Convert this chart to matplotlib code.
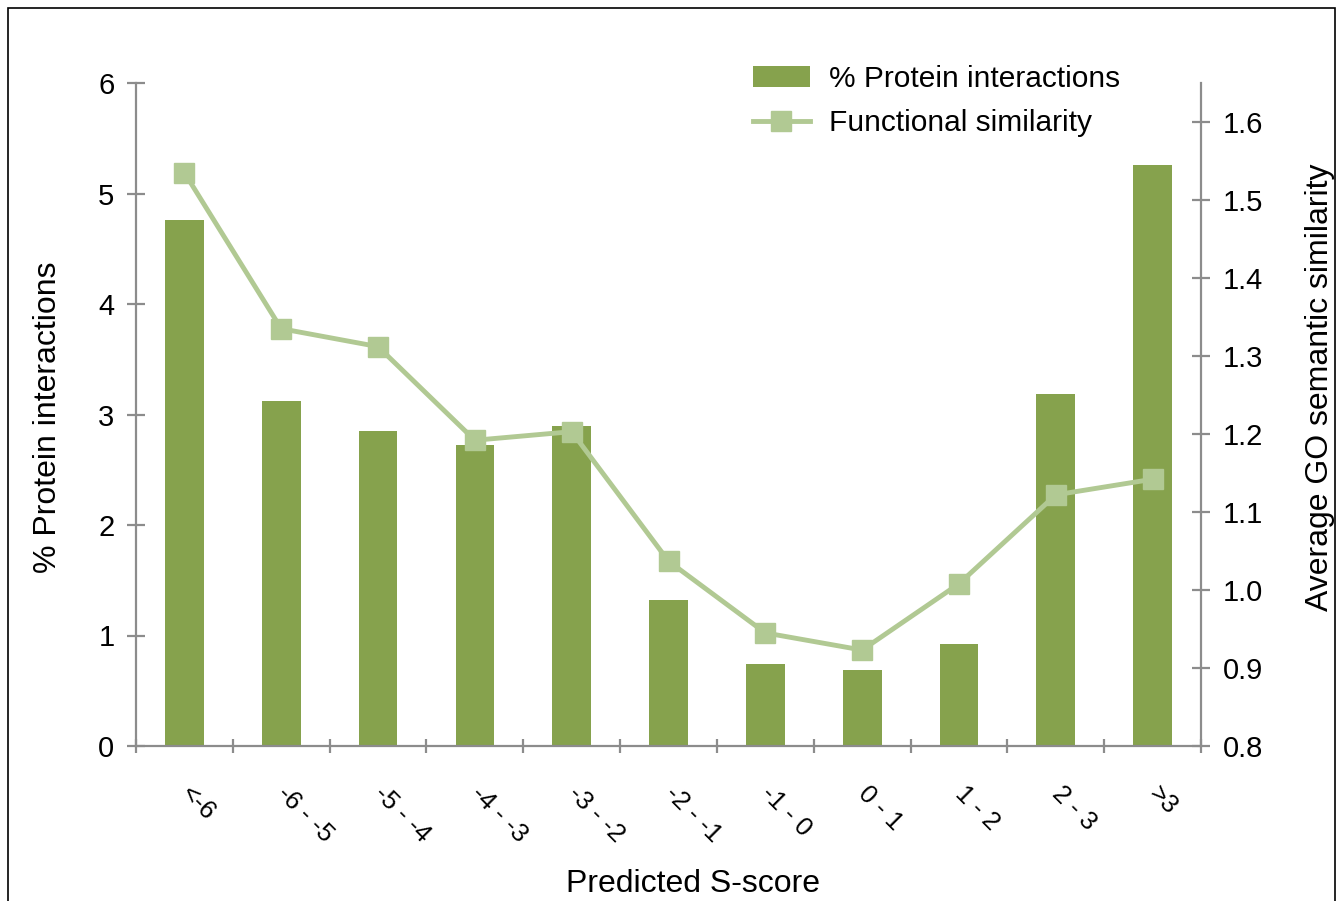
import matplotlib.pyplot as plt
import matplotlib.patches as mpatches
from matplotlib.lines import Line2D
import numpy as np

plt.rcParams["font.family"] = ["Liberation Sans", "DejaVu Sans"]

categories = ["<-6", "-6 - -5", "-5 - -4", "-4 - -3", "-3 - -2", "-2 - -1",
              "-1 - 0", "0 - 1", "1 - 2", "2 - 3", ">3"]
pct_interactions = [4.76, 3.12, 2.85, 2.72, 2.90, 1.32, 0.74, 0.69, 0.92, 3.19, 5.26]
func_similarity = [1.535, 1.335, 1.312, 1.192, 1.203, 1.037, 0.945, 0.923, 1.008, 1.122, 1.142]

C_BAR = "#86A24D"
C_LINE = "#B1C993"
C_AXIS = "#8C8C8C"

W, H = 1343, 901
fig = plt.figure(figsize=(W / 100, H / 100), dpi=100)
ax = fig.add_axes([136 / W, (H - 746) / H, (1201 - 136) / W, (746 - 83) / H])
ax2 = ax.twinx()

# outer frame
fig.patches.append(mpatches.Rectangle(
    (8 / W, -0.05), (1335 - 8) / W, 1.05 - 8 / H,
    transform=fig.transFigure, fill=False, edgecolor="black", linewidth=1.2,
))

x = np.arange(len(categories))
ax.bar(x, pct_interactions, 0.4, color=C_BAR, zorder=2)
ax2.plot(x, func_similarity, color=C_LINE, lw=3.5, marker="s", ms=15,
         markerfacecolor=C_LINE, markeredgecolor=C_LINE, zorder=3)

ax.set_xlim(-0.5, len(categories) - 0.5)
ax.set_ylim(0, 6)
ax2.set_ylim(0.8, 1.65)

for a in (ax, ax2):
    for s in a.spines.values():
        s.set_visible(False)
    a.patch.set_visible(False)

ax.spines["left"].set_visible(True)
ax.spines["bottom"].set_visible(True)
ax2.spines["right"].set_visible(True)
for s in (ax.spines["left"], ax.spines["bottom"], ax2.spines["right"]):
    s.set_color(C_AXIS)
    s.set_linewidth(1.6)
ax2.spines["right"].set_bounds(0.8, 1.65)

ax.set_yticks(range(7))
ax.tick_params(axis="y", direction="inout", length=13, width=1.6, color=C_AXIS,
               labelsize=21, pad=9)
ax2.set_yticks(np.arange(0.8, 1.61, 0.1))
ax2.set_yticklabels([f"{v:.1f}" for v in np.arange(0.8, 1.61, 0.1)])
ax2.tick_params(axis="y", direction="inout", length=13, width=1.6, color=C_AXIS,
                labelsize=21, pad=9)

ax.set_xticks(np.arange(-0.5, len(categories), 1.0))
ax.set_xticklabels([])
ax.set_xticks(x, minor=True)
ax.set_xticklabels(categories, minor=True, rotation=-45, rotation_mode="anchor",
                   ha="left", va="center", fontsize=18.5)
ax.tick_params(axis="x", which="major", direction="inout", length=10, width=1.6,
               color=C_AXIS)
ax.tick_params(axis="x", which="minor", length=0, pad=32)

ax.set_ylabel("% Protein interactions", fontsize=23)
ax.yaxis.set_label_coords(-(136 - 48) / (1201 - 136), (746 - 417) / (746 - 83))
ax2.set_ylabel("Average GO semantic similarity", fontsize=23)
ax2.yaxis.set_label_coords((1320 - 136) / (1201 - 136), (746 - 387) / (746 - 83))
ax.set_xlabel("Predicted S-score", fontsize=23)
ax.xaxis.set_label_coords((693 - 136) / (1201 - 136), -(884 - 746) / (746 - 83))
ax.xaxis.label.set_va("center")
ax.yaxis.label.set_va("center")
ax2.yaxis.label.set_va("center")

handles = [
    mpatches.Patch(facecolor=C_BAR, label="% Protein interactions"),
    Line2D([], [], color=C_LINE, lw=3.5, marker="s", ms=15, label="Functional similarity"),
]
fig.legend(handles=handles, loc="upper left", bbox_to_anchor=(726 / W, 1 - 38 / H),
           frameon=False, fontsize=21.5, handlelength=1.9, handleheight=0.7,
           handletextpad=0.65, labelspacing=0.55)

fig.savefig("out.png", dpi=100)
